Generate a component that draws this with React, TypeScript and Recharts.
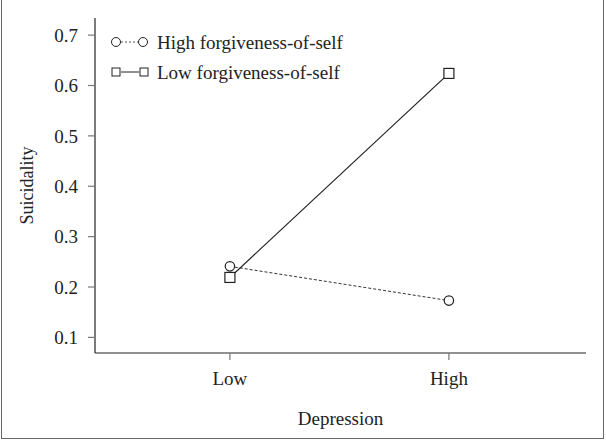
import React from 'react';
import { LineChart, Line, XAxis, YAxis } from 'recharts';

const depressionLevels = ['Low', 'High'];
const depressionPositions = [1, 2];
const highForgivenessOfSelf = [0.241, 0.173];
const lowForgivenessOfSelf = [0.219, 0.624];
const yTicks = [0.1, 0.2, 0.3, 0.4, 0.5, 0.6, 0.7];
const seriesNames = ['High forgiveness-of-self', 'Low forgiveness-of-self'];

const data = depressionLevels.map((lvl, i) => ({
  x: depressionPositions[i],
  label: lvl,
  high: highForgivenessOfSelf[i],
  low: lowForgivenessOfSelf[i],
}));

const FONT = '"Liberation Serif", "Times New Roman", serif';
const INK = '#222';

const SquareDot = (props: any) => {
  const { cx, cy } = props;
  if (cx == null || cy == null) return null;
  return <rect x={cx - 5} y={cy - 5} width={10} height={10} fill="#fff" stroke={INK} strokeWidth={1.2} />;
};
const CircleDot = (props: any) => {
  const { cx, cy } = props;
  if (cx == null || cy == null) return null;
  return <circle cx={cx} cy={cy} r={4.7} fill="#fff" stroke={INK} strokeWidth={1.2} />;
};

const LegendBox = () => (
  <svg width={280} height={60} style={{ position: 'absolute', left: 105, top: 28, overflow: 'visible' }}>
    <line x1={16} y1={14} x2={33} y2={14} stroke="#555" strokeWidth={1} strokeDasharray="2 2" />
    <circle cx={11} cy={14} r={4.5} fill="#fff" stroke={INK} strokeWidth={1} />
    <circle cx={38} cy={14} r={4.5} fill="#fff" stroke={INK} strokeWidth={1} />
    <text x={52} y={14} dominantBaseline="central" fontFamily={FONT} fontSize={19} fill={INK}>{seriesNames[0]}</text>
    <line x1={16} y1={44} x2={34} y2={44} stroke={INK} strokeWidth={1} />
    <rect x={7} y={40} width={8} height={8} fill="#fff" stroke={INK} strokeWidth={1} />
    <rect x={35} y={40} width={8} height={8} fill="#fff" stroke={INK} strokeWidth={1} />
    <text x={52} y={44} dominantBaseline="central" fontFamily={FONT} fontSize={19} fill={INK}>{seriesNames[1]}</text>
  </svg>
);

const YLabel = (props: any) => {
  const vb = props.viewBox || {};
  const cy = vb.y + vb.height / 2;
  const cx = 27;
  return (
    <text x={cx} y={cy} transform={`rotate(-90, ${cx}, ${cy})`} textAnchor="middle" dominantBaseline="central"
      fontFamily={FONT} fontSize={18} fill={INK}>Suicidality</text>
  );
};

export default function App() {
  return (
    <div style={{ position: 'absolute', left: 0, top: 0, width: 606, height: 441, background: '#fff' }}>
      <LineChart width={606} height={441} data={data} margin={{ top: 18, right: 20, bottom: 0, left: 0 }}>
        <XAxis
          dataKey="x"
          type="number"
          domain={[0.384, 2.626]}
          ticks={depressionPositions}
          tickFormatter={(v: number) => depressionLevels[depressionPositions.indexOf(v)] ?? ''}
          height={88}
          tickSize={7}
          tickMargin={12}
          axisLine={{ stroke: INK, strokeWidth: 1.2 }}
          tickLine={{ stroke: '#777', strokeWidth: 1.2 }}
          tick={{ fontFamily: FONT, fontSize: 19, fill: INK }}
          label={{ value: 'Depression', position: 'insideBottom', offset: 16, fontFamily: FONT, fontSize: 19, fill: INK }}
        />
        <YAxis
          type="number"
          domain={[0.069, 0.734]}
          ticks={yTicks}
          tickFormatter={(v: number) => v.toFixed(1)}
          width={95}
          tickSize={7}
          tickMargin={10}
          axisLine={{ stroke: INK, strokeWidth: 1.2 }}
          tickLine={{ stroke: '#777', strokeWidth: 1.2 }}
          tick={{ fontFamily: FONT, fontSize: 19, fill: INK }}
          label={<YLabel />}
        />
        <Line
          dataKey="high"
          name={seriesNames[0]}
          type="linear"
          stroke="#333"
          strokeWidth={1}
          strokeDasharray="3 2"
          dot={<CircleDot />}
          activeDot={false}
          isAnimationActive={false}
        />
        <Line
          dataKey="low"
          name={seriesNames[1]}
          type="linear"
          stroke={INK}
          strokeWidth={1.2}
          dot={<SquareDot />}
          activeDot={false}
          isAnimationActive={false}
        />
      </LineChart>
      <LegendBox />
      <div style={{ position: 'absolute', left: 1, top: 0, width: 603, height: 439, boxSizing: 'border-box',
        borderLeft: '1.5px solid #666', borderRight: '1.5px solid #666', borderBottom: '1.5px solid #666', pointerEvents: 'none' }} />
    </div>
  );
}
